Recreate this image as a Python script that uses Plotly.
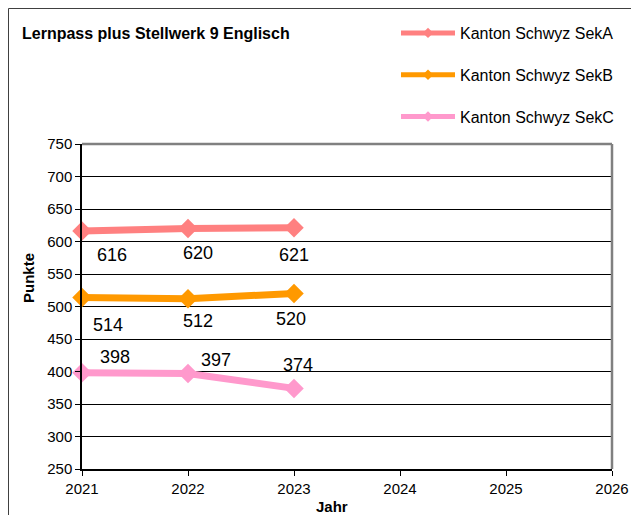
import plotly.graph_objects as go

years = [2021, 2022, 2023]
series_names = ["Kanton Schwyz SekA", "Kanton Schwyz SekB", "Kanton Schwyz SekC"]
sekA = [616, 620, 621]
sekB = [514, 512, 520]
sekC = [398, 397, 374]
colors = ["#FF8080", "#FF9900", "#FF99CC"]
title_text = "Lernpass plus Stellwerk 9 Englisch"
x_ticks = [2021, 2022, 2023, 2024, 2025, 2026]
y_ticks = [250, 300, 350, 400, 450, 500, 550, 600, 650, 700, 750]

# label pixel offsets (style) per series
label_shifts = [
    [(30, -24), (10, -24), (0, -27)],
    [(26, -28), (10, -22), (-3, -25)],
    [(33, 16), (28, 13), (4, 23)],
]

W, H = 631, 507
L, T = 74, 136
PW, PH = 530, 325

FONT = "Liberation Sans, Arial, sans-serif"
fig = go.Figure()
all_series = [sekA, sekB, sekC]
for name, vals, col in zip(series_names, all_series, colors):
    fig.add_trace(go.Scatter(
        x=years, y=vals, mode="lines+markers", name=name, showlegend=False,
        line=dict(color=col, width=7),
        marker=dict(symbol="diamond", size=15, color=col),
        cliponaxis=False,
    ))
for i, (name, col) in enumerate(zip(series_names, colors)):
    fig.add_trace(go.Scatter(
        x=[None], y=[None], mode="lines+markers", name=name, legendgroup=f"g{i}",
        line=dict(color=col, width=5),
        marker=dict(symbol="diamond", size=8, color=col),
    ))

def px(xpix):
    return (xpix - L) / PW

def py(ypix):
    return (T + PH - ypix) / PH

annotations = []
for vals, shifts in zip(all_series, label_shifts):
    for x, v, (dx, dy) in zip(years, vals, shifts):
        annotations.append(dict(x=x, y=v, text=str(v), showarrow=False,
                                xshift=dx, yshift=dy,
                                font=dict(size=18, color="black", family=FONT)))
annotations.append(dict(xref="paper", yref="paper", x=px(20), y=py(270),
                        xanchor="center", yanchor="middle",
                        text="<b>Punkte</b>", textangle=-90, showarrow=False,
                        font=dict(size=15, color="black", family=FONT)))
annotations.append(dict(xref="paper", yref="paper", x=px(323.7), y=py(498.7),
                        xanchor="center", yanchor="middle",
                        text="<b>Jahr</b>", showarrow=False,
                        font=dict(size=15, color="black", family=FONT)))

shapes = [
    # outer chart border
    dict(type="rect", xref="paper", yref="paper", x0=px(0.5), x1=px(W + 20),
         y0=py(H + 20), y1=py(0.5), line=dict(color="#404040", width=1), layer="below"),
    # plot area top & right border (gray)
    dict(type="line", xref="paper", yref="paper", x0=0, x1=1, y0=1, y1=1,
         line=dict(color="#808080", width=2.5)),
    dict(type="line", xref="paper", yref="paper", x0=1, x1=1, y0=0, y1=1,
         line=dict(color="#808080", width=2.5)),
]

fig.update_layout(
    width=W, height=H,
    margin=dict(l=L, r=W - L - PW, t=T, b=H - T - PH, autoexpand=False),
    paper_bgcolor="white", plot_bgcolor="white",
    font=dict(family=FONT, color="black"),
    title=dict(text=f"<b>{title_text}</b>", xref="container", yref="container",
               x=14 / W, y=1 - 25 / H, xanchor="left", yanchor="middle",
               font=dict(size=16, color="black", family=FONT)),
    legend=dict(x=px(388), y=py(8), xanchor="left", yanchor="top",
                traceorder="grouped", tracegroupgap=18, itemwidth=54,
                font=dict(size=16, color="black", family=FONT),
                bgcolor="rgba(0,0,0,0)"),
    annotations=annotations,
    shapes=shapes,
)
fig.update_xaxes(range=[2021, 2026], tickvals=x_ticks, ticks="outside", ticklen=5,
                 tickcolor="black", showline=True, linecolor="black", linewidth=1.5,
                 showgrid=False, zeroline=False, tickfont=dict(size=15, color="black"))
fig.update_yaxes(range=[250, 750], tickvals=y_ticks, ticks="outside", ticklen=5,
                 tickcolor="black", showline=True, linecolor="black", linewidth=1.5,
                 showgrid=True, gridcolor="black", gridwidth=1, zeroline=False,
                 tickfont=dict(size=15, color="black"))

fig.write_html("out.html")
